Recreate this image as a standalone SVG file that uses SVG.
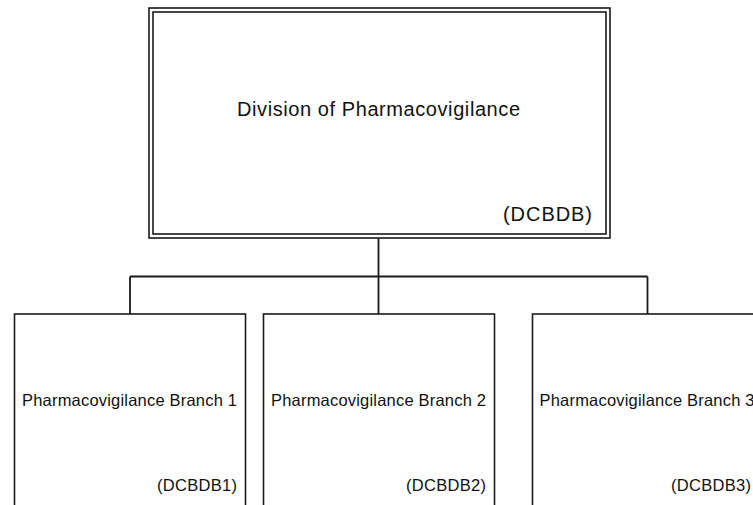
<svg xmlns="http://www.w3.org/2000/svg" width="753" height="505" viewBox="0 0 753 505">
<style>
.box{fill:#fff;stroke:#1a1a1a;stroke-width:1.6}
.conn{fill:none;stroke:#1a1a1a;stroke-width:1.8}
.t{font-family:"Liberation Sans",Arial,sans-serif;fill:#111}
.title{font-size:20px}
.sub{font-size:16.5px}
</style>
<rect width="753" height="505" fill="#fff"/>
<g id="connectors">
<path class="conn" d="M378.5,238 V276.5 M130,276.5 H647.5 M130,276.5 V314 M378.5,276.5 V314 M647.5,276.5 V314"/>
</g>
<g id="n0">
<rect class="box" x="149" y="8" width="461" height="230"/>
<rect class="box" x="153" y="12" width="453" height="222"/>
<text class="t title" x="237" y="116" textLength="283" lengthAdjust="spacing">Division of Pharmacovigilance</text>
<text class="t title" x="503" y="221" textLength="89" lengthAdjust="spacing">(DCBDB)</text>
</g>
<g id="n1">
<rect class="box" x="14.5" y="314" width="231" height="220"/>
<text class="t sub" x="22" y="406" textLength="215" lengthAdjust="spacing">Pharmacovigilance Branch 1</text>
<text class="t sub" x="157" y="491" textLength="80" lengthAdjust="spacing">(DCBDB1)</text>
</g>
<g id="n2">
<rect class="box" x="263.5" y="314" width="231" height="220"/>
<text class="t sub" x="271" y="406" textLength="215" lengthAdjust="spacing">Pharmacovigilance Branch 2</text>
<text class="t sub" x="406" y="491" textLength="80" lengthAdjust="spacing">(DCBDB2)</text>
</g>
<g id="n3">
<rect class="box" x="532.5" y="314" width="231" height="220"/>
<text class="t sub" x="539.5" y="406" textLength="215" lengthAdjust="spacing">Pharmacovigilance Branch 3</text>
<text class="t sub" x="671" y="491" textLength="80" lengthAdjust="spacing">(DCBDB3)</text>
</g>
</svg>
